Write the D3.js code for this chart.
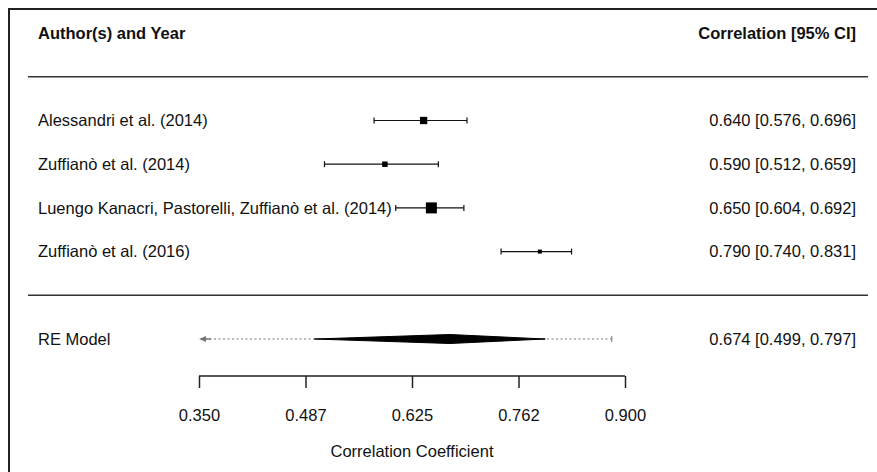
<!DOCTYPE html>
<html>
<head>
<meta charset="utf-8">
<script src="https://cdn.jsdelivr.net/npm/d3@7"></script>
<style>
  body { margin: 0; background: #fff; }
  text { font-family: "Liberation Sans", Arial, sans-serif; fill: #111; }
</style>
</head>
<body>
<div id="chart"></div>
<script>
const studies = ['Alessandri et al. (2014)', 'Zuffianò et al. (2014)',
  'Luengo Kanacri, Pastorelli, Zuffianò et al. (2014)', 'Zuffianò et al. (2016)'];
const estimates = [0.640, 0.590, 0.650, 0.790];
const ciLower = [0.576, 0.512, 0.604, 0.740];
const ciUpper = [0.696, 0.659, 0.692, 0.831];
const weights = [26, 21, 36, 17];
const rowIds = [4, 3, 2, 1];

// random effects summary
const reLabel = 'RE Model';
const reEst = 0.674, reLower = 0.499, reUpper = 0.797;
const piLower = 0.30, piUpper = 0.883;

const tickVals = [0.35, 0.4875, 0.625, 0.7625, 0.9];
const tickLabels = ['0.350', '0.487', '0.625', '0.762', '0.900'];

const width = 877, height = 472;
const fs = 16.5;
const svg = d3.select('#chart').append('svg')
  .attr('width', width).attr('height', height);

const x = d3.scaleLinear().domain([0.35, 0.9]).range([199, 625]);
const y = d3.scaleLinear().domain([4, -1]).range([120.5, 339]);
const sz = d3.scaleLinear().domain(d3.extent(weights)).range([4, 11]);
const fmt = d3.format('.3f');
const xl = 38, xr = 856;

// frame (top and left edges visible)
svg.append('path').attr('d', 'M9,472 L9,9 L877,9')
  .attr('fill', 'none').attr('stroke', '#222').attr('stroke-width', 2);

// headers
svg.append('text').attr('x', xl).attr('y', y(6)).attr('dy', '0.35em')
  .attr('font-size', fs).attr('font-weight', 'bold').text('Author(s) and Year');
svg.append('text').attr('x', xr).attr('y', y(6)).attr('dy', '0.35em')
  .attr('text-anchor', 'end').attr('font-size', fs).attr('font-weight', 'bold')
  .text('Correlation [95% CI]');

// separator lines
[5, 0].forEach(r => {
  svg.append('line').attr('x1', 28).attr('x2', 868)
    .attr('y1', y(r)).attr('y2', y(r))
    .attr('stroke', '#333').attr('stroke-width', 1.5);
});

// study rows
const rows = svg.selectAll('g.study')
  .data(studies.map((s, i) => ({ s, i })))
  .enter().append('g').attr('class', 'study')
  .attr('transform', d => 'translate(0,' + y(rowIds[d.i]) + ')');

rows.append('text').attr('x', xl).attr('dy', '0.35em').attr('font-size', fs)
  .text(d => d.s);
rows.append('text').attr('x', xr).attr('dy', '0.35em').attr('font-size', fs)
  .attr('text-anchor', 'end')
  .text(d => fmt(estimates[d.i]) + ' [' + fmt(ciLower[d.i]) + ', ' + fmt(ciUpper[d.i]) + ']');
rows.append('line')
  .attr('x1', d => x(ciLower[d.i])).attr('x2', d => x(ciUpper[d.i]))
  .attr('stroke', '#111').attr('stroke-width', 1.2);
rows.each(function(d) {
  const g = d3.select(this);
  [ciLower[d.i], ciUpper[d.i]].forEach(v => {
    g.append('line').attr('x1', x(v)).attr('x2', x(v)).attr('y1', -3).attr('y2', 3)
      .attr('stroke', '#111').attr('stroke-width', 1.2);
  });
});
rows.append('rect')
  .attr('x', d => x(estimates[d.i]) - sz(weights[d.i]) / 2)
  .attr('y', d => -sz(weights[d.i]) / 2)
  .attr('width', d => sz(weights[d.i])).attr('height', d => sz(weights[d.i]))
  .attr('fill', '#000');

// RE model
const yr = y(-1);
svg.append('text').attr('x', xl).attr('y', yr).attr('dy', '0.35em').attr('font-size', fs)
  .text(reLabel);
svg.append('text').attr('x', xr).attr('y', yr).attr('dy', '0.35em').attr('font-size', fs)
  .attr('text-anchor', 'end')
  .text(fmt(reEst) + ' [' + fmt(reLower) + ', ' + fmt(reUpper) + ']');

// prediction interval (dotted), clipped at the axis lower limit with an arrow
const piL = Math.max(piLower, x.domain()[0]);
svg.append('line').attr('x1', x(piL) + 6).attr('x2', x(piUpper))
  .attr('y1', yr).attr('y2', yr)
  .attr('stroke', '#777').attr('stroke-width', 1.2).attr('stroke-dasharray', '2,2.5');
svg.append('line').attr('x1', x(piUpper)).attr('x2', x(piUpper))
  .attr('y1', yr - 3).attr('y2', yr + 3).attr('stroke', '#777').attr('stroke-width', 1);
if (piLower < x.domain()[0]) {
  const ax = x(x.domain()[0]);
  svg.append('path')
    .attr('d', `M${ax},${yr} L${ax + 7},${yr - 3} L${ax + 7},${yr + 3} Z`)
    .attr('fill', '#777');
  svg.append('line').attr('x1', ax + 6).attr('x2', ax + 12).attr('y1', yr).attr('y2', yr)
    .attr('stroke', '#777').attr('stroke-width', 1.5);
}

// summary diamond
svg.append('path')
  .attr('d', `M${x(reLower)},${yr} L${x(reEst)},${yr - 4.5} L${x(reUpper)},${yr} L${x(reEst)},${yr + 4.5} Z`)
  .attr('fill', '#000').attr('stroke', '#000').attr('stroke-width', 1);

// x axis
const axisY = 376;
const axis = d3.axisBottom(x).tickValues(tickVals)
  .tickFormat((d, i) => tickLabels[i]).tickSize(12).tickSizeOuter(0).tickPadding(21);
const ax = svg.append('g').attr('transform', 'translate(0,' + axisY + ')').call(axis);
ax.select('.domain').attr('stroke', '#222').attr('stroke-width', 1.5)
  .attr('d', `M${x(0.35)},0 H${x(0.9)}`);
ax.selectAll('.tick line').attr('stroke', '#222').attr('stroke-width', 1.5);
ax.selectAll('.tick text').attr('font-size', fs).attr('fill', '#111')
  .attr('font-family', '"Liberation Sans", Arial, sans-serif');

svg.append('text').attr('x', (x(0.35) + x(0.9)) / 2).attr('y', 451).attr('dy', '0.35em')
  .attr('text-anchor', 'middle').attr('font-size', fs).text('Correlation Coefficient');
</script>
</body>
</html>
